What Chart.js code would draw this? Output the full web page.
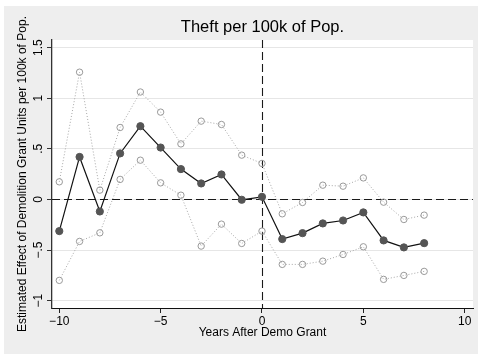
<!DOCTYPE html>
<html>
<head>
<meta charset="utf-8">
<script src="https://cdn.jsdelivr.net/npm/chart.js@4/dist/chart.umd.min.js"></script>
<style>
  html, body { margin: 0; padding: 0; background: #fff; }
  canvas { display: block; }
</style>
</head>
<body>
<canvas id="chart" width="478" height="354"></canvas>
<script>
// Event-study estimates: years relative to the demolition grant
const years = [-10, -9, -8, -7, -6, -5, -4, -3, -2, -1, 0, 1, 2, 3, 4, 5, 6, 7, 8];
const estimate = [-0.313, 0.420, -0.119, 0.455, 0.724, 0.513, 0.300, 0.158, 0.247, -0.003, 0.026,
                  -0.392, -0.333, -0.237, -0.208, -0.128, -0.405, -0.474, -0.432];
const upperCI = [0.174, 1.258, 0.092, 0.711, 1.062, 0.863, 0.549, 0.774, 0.741, 0.438, 0.356,
                 -0.142, -0.030, 0.141, 0.131, 0.213, -0.027, -0.198, -0.155];
const lowerCI = [-0.800, -0.415, -0.330, 0.198, 0.388, 0.164, 0.042, -0.461, -0.244, -0.435, -0.313,
                 -0.642, -0.642, -0.610, -0.544, -0.468, -0.790, -0.751, -0.711];

const xTicks = [-10, -5, 0, 5, 10];
const xTickLabels = ['\u221210', '\u22125', '0', '5', '10'];
const yTicks = [-1, -0.5, 0, 0.5, 1, 1.5];
const yTickLabels = ['\u22121', '\u2212.5', '0', '.5', '1', '1.5'];

const titleText = 'Theft per 100k of Pop.';
const xTitle = 'Years After Demo Grant';
const yTitle = 'Estimated Effect of Demolition Grant Units per 100k of Pop.';

const FONT = '"Liberation Sans", Arial, Helvetica, sans-serif';

const toPoints = (vals) => years.map((x, i) => ({ x: x, y: vals[i] }));

// Gray outer panel with white plot region
const panelPlugin = {
  id: 'panel',
  beforeDraw(chart) {
    const { ctx, chartArea: a } = chart;
    ctx.save();
    ctx.fillStyle = '#ffffff';
    ctx.fillRect(0, 0, chart.width, chart.height);
    ctx.fillStyle = '#eeeeee';
    ctx.fillRect(4, 6, chart.width - 4, chart.height - 6);
    ctx.fillStyle = '#ffffff';
    ctx.fillRect(a.left, a.top, a.right - a.left, a.bottom - a.top);
    ctx.restore();
  }
};

// Dashed reference lines at x = 0 and y = 0
const refLinesPlugin = {
  id: 'refLines',
  beforeDatasetsDraw(chart) {
    const { ctx, chartArea: a, scales } = chart;
    const x0 = Math.round(scales.x.getPixelForValue(0)) + 0.5;
    const y0 = Math.round(scales.y.getPixelForValue(0)) + 0.5;
    ctx.save();
    ctx.strokeStyle = '#1a1a1a';
    ctx.lineWidth = 1.1;
    ctx.setLineDash([8, 4]);
    ctx.beginPath();
    ctx.moveTo(a.left, y0);
    ctx.lineTo(a.right, y0);
    ctx.stroke();
    ctx.beginPath();
    ctx.moveTo(x0, a.top);
    ctx.lineTo(x0, a.bottom);
    ctx.stroke();
    ctx.restore();
  }
};

// Title, axis titles and the rotated y tick labels
const textPlugin = {
  id: 'texts',
  afterDraw(chart) {
    const { ctx, chartArea: a, scales } = chart;
    const cx = (a.left + a.right) / 2;
    const cy = (a.top + a.bottom) / 2;
    ctx.save();
    ctx.fillStyle = '#000';
    ctx.textAlign = 'center';
    ctx.textBaseline = 'middle';

    ctx.font = '16.5px ' + FONT;
    ctx.fillText(titleText, cx, 27);

    ctx.font = '12px ' + FONT;
    ctx.fillText(xTitle, cx, 333);

    ctx.save();
    ctx.translate(23, cy);
    ctx.rotate(-Math.PI / 2);
    ctx.font = '12px ' + FONT;
    ctx.fillText(yTitle, 0, 0);
    ctx.restore();

    ctx.font = '12px ' + FONT;
    yTicks.forEach((v, i) => {
      const py = scales.y.getPixelForValue(v);
      ctx.save();
      ctx.translate(39, py);
      ctx.rotate(-Math.PI / 2);
      ctx.fillText(yTickLabels[i], 0, 0);
      ctx.restore();
    });
    ctx.restore();
  }
};

new Chart(document.getElementById('chart'), {
  type: 'line',
  data: {
    datasets: [
      {
        label: 'Estimate',
        data: toPoints(estimate),
        borderColor: '#111111',
        borderWidth: 1.2,
        pointRadius: 3.6,
        pointBackgroundColor: '#555555',
        pointBorderColor: '#555555',
        pointBorderWidth: 1,
        tension: 0,
        order: 0
      },
      {
        label: 'Upper 95% CI',
        data: toPoints(upperCI),
        borderColor: '#a8a8a8',
        borderWidth: 1,
        borderDash: [1, 2],
        pointRadius: 3.2,
        pointBackgroundColor: 'rgba(255,255,255,0)',
        pointBorderColor: '#9a9a9a',
        pointBorderWidth: 1,
        tension: 0,
        order: 1
      },
      {
        label: 'Lower 95% CI',
        data: toPoints(lowerCI),
        borderColor: '#a8a8a8',
        borderWidth: 1,
        borderDash: [1, 2],
        pointRadius: 3.2,
        pointBackgroundColor: 'rgba(255,255,255,0)',
        pointBorderColor: '#9a9a9a',
        pointBorderWidth: 1,
        tension: 0,
        order: 2
      }
    ]
  },
  options: {
    responsive: false,
    animation: false,
    events: [],
    devicePixelRatio: 1,
    layout: { padding: { top: 40, right: 5, bottom: 0, left: 0 } },
    plugins: {
      legend: { display: false },
      tooltip: { enabled: false },
      title: { display: false }
    },
    scales: {
      x: {
        type: 'linear',
        min: -10.36,
        max: 10.41,
        afterBuildTicks: (s) => { s.ticks = xTicks.map(v => ({ value: v })); },
        afterFit: (s) => { s.height = 46; },
        ticks: {
          callback: (v) => xTickLabels[xTicks.indexOf(v)],
          font: { family: FONT, size: 12 },
          color: '#000',
          padding: 1,
          maxRotation: 0,
          autoSkip: false
        },
        grid: {
          drawOnChartArea: false,
          drawTicks: true,
          tickLength: 5,
          tickColor: '#222'
        },
        border: { color: '#111', width: 1 }
      },
      y: {
        type: 'linear',
        min: -1.073,
        max: 1.576,
        afterBuildTicks: (s) => { s.ticks = yTicks.map(v => ({ value: v })); },
        afterFit: (s) => { s.width = 52; },
        ticks: { display: false },
        grid: {
          color: '#e6e6e6',
          lineWidth: 1,
          drawTicks: true,
          tickLength: 5,
          tickColor: '#333'
        },
        border: { color: '#333', width: 1.3 }
      }
    }
  },
  plugins: [panelPlugin, refLinesPlugin, textPlugin]
});
</script>
</body>
</html>
